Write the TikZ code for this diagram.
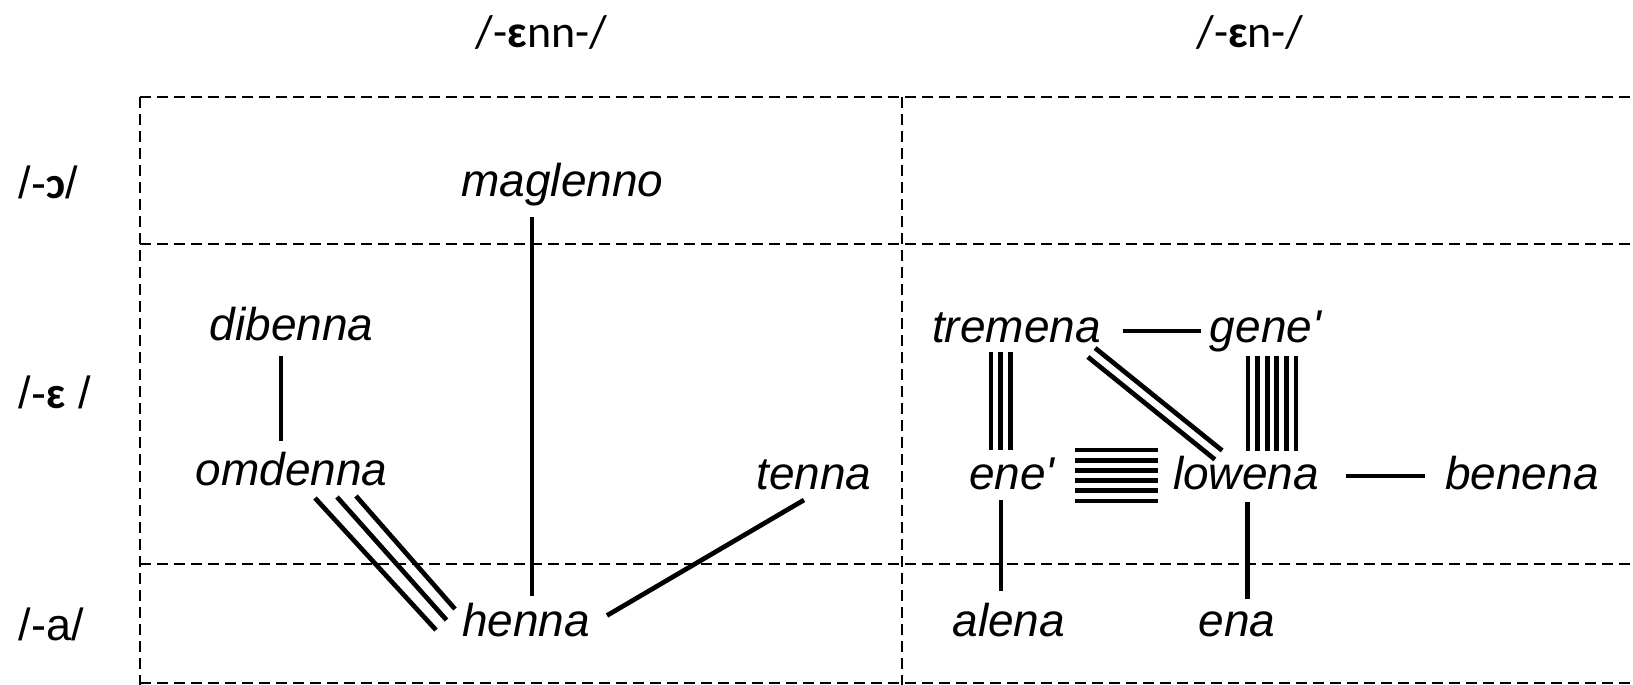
\documentclass[tikz,border=0pt]{standalone}
\usepackage{fontspec}
\setmainfont{Liberation Sans}
\newfontfamily\hdrfont{Carlito}
\usetikzlibrary{calc}
\tikzset{
  word/.style={font=\fontsize{46}{50}\selectfont\itshape, anchor=base, inner sep=0pt},
  hdr/.style={font=\hdrfont\fontsize{46}{50}\selectfont, anchor=base, inner sep=0pt},
  rowlab/.style={font=\fontsize{45}{50}\selectfont, anchor=base west, inner sep=0pt},
  gridline/.style={line width=2pt, dash pattern=on 11pt off 6pt},
  conn/.style={line width=4.7pt},
}
\newcommand\ipa[1]{{\hdrfont\bfseries #1}}
\newcommand\bundle[4]{%
  \foreach \k in {1,...,#1}{%
    \pgfmathsetmacro\off{(\k-(#1+1)/2)*#2}%
    \draw[conn] ($(#3)!\off pt!90:(#4)$) -- ($(#4)!\off pt!-90:(#3)$);
  }}
\begin{document}
\begin{tikzpicture}[x=1pt,y=-1pt]
\useasboundingbox (0,0) rectangle (1633,685);
% grid
\draw[gridline] (139.5,97) -- (1633,97);
\draw[gridline] (139.5,244) -- (1633,244);
\draw[gridline] (139.5,563.5) -- (1633,563.5);
\draw[gridline] (139.5,683) -- (1633,683);
\draw[gridline] (139.5,97) -- (139.5,685);
\draw[gridline] (902,97) -- (902,685);
% headers
\node[hdr] (h1) at (541.6,48) {/-\ipa{ɛ}nn-/};
\node[hdr] (h2) at (1250,48) {/-\ipa{ɛ}n-/};
% row labels
\node[rowlab] (r1) at (18.7,198) {/-\ipa{ɔ}/};
\node[rowlab] (r2) at (18.7,408) {/-\ipa{ɛ} /};
\node[rowlab] (r3) at (18.7,640.5) {/-a/};
% words
\node[word] (maglenno) at (562.4,196) {maglenno};
\node[word] (dibenna) at (291.6,340.6) {dibenna};
\node[word] (omdenna) at (291.6,485) {omdenna};
\node[word] (tenna) at (814,489.5) {tenna};
\node[word] (henna) at (526,636) {henna};
\node[word] (tremena) at (1016.5,342.6) {tremena};
\node[word] (gene) at (1265.5,342.6) {gene\textquotesingle};
\node[word] (ene) at (1012,489.5) {ene\textquotesingle};
\node[word] (lowena) at (1246,489.5) {lowena};
\node[word] (benena) at (1522,489.5) {benena};
\node[word] (alena) at (1008.7,636) {alena};
\node[word] (ena) at (1236.8,636) {ena};
% connector ends
\coordinate (mh-a) at (532,217);    \coordinate (mh-b) at (532,596);
\coordinate (do-a) at (281,356);    \coordinate (do-b) at (281,440.5);
\coordinate (th-a) at (804,500);    \coordinate (th-b) at (607,615.5);
\coordinate (oh1-a) at (315,498);   \coordinate (oh1-b) at (436,630);
\coordinate (oh2-a) at (337,497);   \coordinate (oh2-b) at (446.5,620);
\coordinate (oh3-a) at (356,496);   \coordinate (oh3-b) at (455,609);
\coordinate (tg-a) at (1122.7,331); \coordinate (tg-b) at (1200.8,331);
\coordinate (te-a) at (1000.7,352); \coordinate (te-b) at (1000.7,450);
\coordinate (gl-a) at (1272,356);   \coordinate (gl-b) at (1272,450.5);
\coordinate (tl-a) at (1091.5,352.5); \coordinate (tl-b) at (1218.5,455);
\coordinate (el-a) at (1075,475.5); \coordinate (el-b) at (1158,475.5);
\coordinate (lb-a) at (1345.6,476); \coordinate (lb-b) at (1425,476);
\coordinate (ea-a) at (1001,500);   \coordinate (ea-b) at (1001,590.5);
\coordinate (le-a) at (1247.7,502); \coordinate (le-b) at (1247.7,599);
% connectors
\draw[conn] (mh-a) -- (mh-b);
\draw[conn] (do-a) -- (do-b);
\draw[conn] (th-a) -- (th-b);
\draw[conn] (oh1-a) -- (oh1-b);
\draw[conn] (oh2-a) -- (oh2-b);
\draw[conn] (oh3-a) -- (oh3-b);
\draw[conn] (tg-a) -- (tg-b);
\bundle{3}{9.6}{te-a}{te-b}
\bundle{6}{9.6}{gl-a}{gl-b}
\bundle{2}{11.5}{tl-a}{tl-b}
\bundle{6}{10.2}{el-a}{el-b}
\draw[conn] (lb-a) -- (lb-b);
\draw[conn] (ea-a) -- (ea-b);
\draw[conn] (le-a) -- (le-b);
\end{tikzpicture}
\end{document}
